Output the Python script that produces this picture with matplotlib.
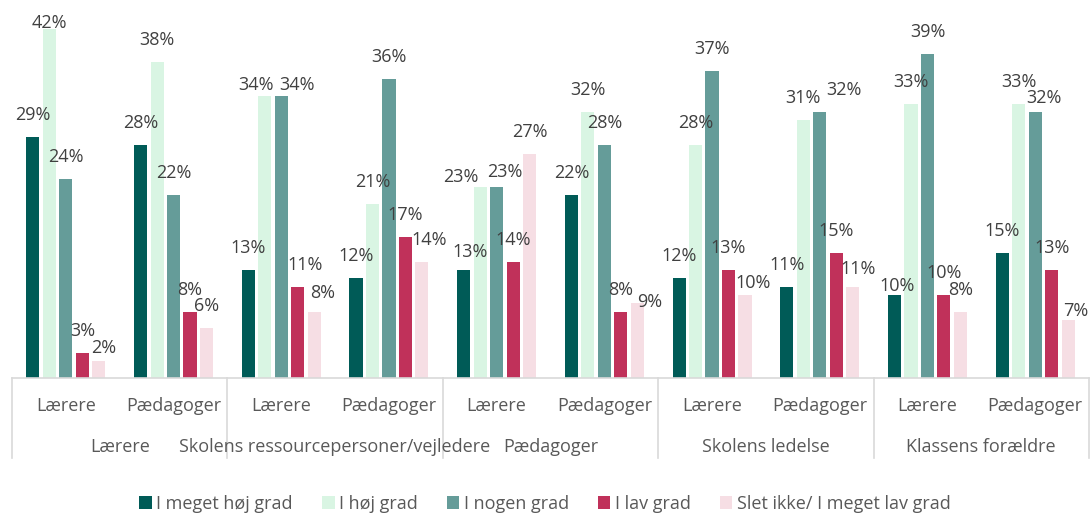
import numpy as np
import matplotlib.pyplot as plt
from matplotlib.patches import Patch
from matplotlib.lines import Line2D

plt.rcParams['font.family'] = ['Open Sans', 'DejaVu Sans']

# Data
outer_labels = ['Lærere', 'Skolens ressourcepersoner/vejledere', 'Pædagoger',
                'Skolens ledelse', 'Klassens forældre']
inner_labels = ['Lærere', 'Pædagoger']
series_names = ['I meget høj grad', 'I høj grad', 'I nogen grad', 'I lav grad',
                'Slet ikke/ I meget lav grad']

meget_hoj = [29, 28, 13, 12, 13, 22, 12, 11, 10, 15]
hoj = [42, 38, 34, 21, 23, 32, 28, 31, 33, 33]
nogen = [24, 22, 34, 36, 23, 28, 37, 32, 39, 32]
lav = [3, 8, 11, 17, 14, 8, 13, 15, 10, 13]
slet_ikke = [2, 6, 8, 14, 27, 9, 10, 11, 8, 7]

colors = ['#005B57', '#D9F5E3', '#659C99', '#C0315A', '#F6DEE4']
series = [meget_hoj, hoj, nogen, lav, slet_ikke]

# label nudges (group, series) -> (dx px, gap above bar top px), like the hand-moved excel labels
nudges = {
    (0, 1): (0, 6), (0, 4): (5, 13),
    (2, 1): (-9, 11), (2, 2): (16, 11), (2, 3): (7, 22), (2, 4): (8, 19),
    (3, 4): (7, 22),
    (4, 0): (6, 18), (4, 1): (-19, 10), (4, 2): (8, 15),
    (5, 4): (12, 1),
    (6, 4): (8, 12),
    (7, 2): (24, 22), (7, 4): (5, 18),
    (8, 0): (3, 9),
    (9, 2): (9, 14), (9, 4): (8, 9),
}

W, H = 1090, 513
fig = plt.figure(figsize=(W / 100, H / 100), dpi=100)
ax = fig.add_axes([12 / W, (H - 378) / H, (1089 - 12) / W, 378 / H])

n_groups = len(meget_hoj)
x = np.arange(n_groups)
pitch = 0.153
width = 0.122
fs = 13
label_col = '#404040'
axis_col = '#595959'
grid_col = '#D9D9D9'

for i, (vals, c, name) in enumerate(zip(series, colors, series_names)):
    xpos = x + (i - 2) * pitch
    ax.bar(xpos, vals, width=width, color=c, label=name, zorder=2)
    for g, (xp, v) in enumerate(zip(xpos, vals)):
        dx, gap = nudges.get((g, i), (0, 22))
        ax.annotate('%d%%' % v, xy=(xp, v), xytext=(dx * 0.72, gap * 0.72),
                    textcoords='offset points', ha='center', va='center',
                    fontsize=fs, color=label_col, annotation_clip=False)

ax.set_xlim(-0.5, n_groups - 0.5)
ax.set_ylim(0, 45.5)
for s in ['top', 'right', 'left']:
    ax.spines[s].set_visible(False)
ax.spines['bottom'].set_color(grid_col)
ax.spines['bottom'].set_linewidth(1.2)
ax.set_yticks([])
ax.set_xticks([])

# Multi-level category axis
trans = ax.get_xaxis_transform()
line_bottom = -(458 - 378) / 378
for b in np.arange(-0.5, n_groups, 2):
    ax.add_line(Line2D([b, b], [0, line_bottom], transform=trans,
                       color=grid_col, lw=1.2, clip_on=False))
for g in range(n_groups):
    ax.text(g, -(406 - 378) / 378, inner_labels[g % 2], transform=trans,
            ha='center', va='center', fontsize=fs, color=axis_col)
for k, name in enumerate(outer_labels):
    ax.text(2 * k + 0.5, -(447 - 378) / 378, name, transform=trans,
            ha='center', va='center', fontsize=fs, color=axis_col)

handles = [Patch(facecolor=c, label=n) for c, n in zip(colors, series_names)]
fig.legend(handles=handles, loc='center', bbox_to_anchor=(0.5, 1 - 504 / H),
           ncol=5, frameon=False, fontsize=fs, labelcolor=axis_col,
           handlelength=0.7, handleheight=0.7, handletextpad=0.25,
           columnspacing=1.6, borderpad=0)

fig.savefig('out.png', dpi=100)
